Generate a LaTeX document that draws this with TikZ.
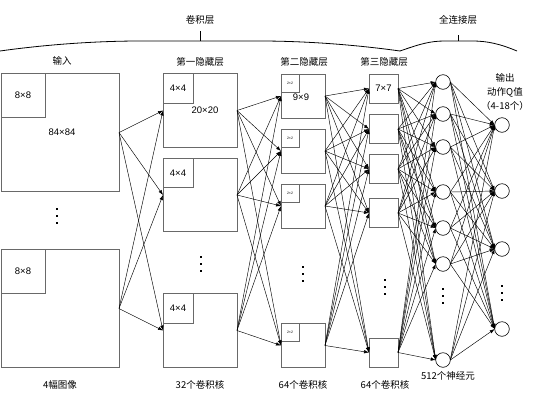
\documentclass[tikz,border=0pt]{standalone}
\usepackage{fontspec}
\setmainfont{Liberation Sans}
\newfontfamily\cjk{Noto Sans CJK SC}
\usepackage{xcolor}
\usetikzlibrary{arrows.meta}
\definecolor{Box-Gray}{RGB}{105, 105, 105}
\newcommand{\stackdots}[2]{\foreach \d in {-7,0,7} {\fill (#1-1.4,#2+\d-1.4) rectangle ++(2.8,2.8);}}

\begin{document}
\begin{tikzpicture}[x=1pt, y=-1pt, font=\fontsize{9.5}{10}\selectfont,
    cjklabel/.style={font=\fontsize{9.5}{14}\selectfont\cjk},
    bigbox/.style={draw=Box-Gray, line width=0.9pt, inner sep=0pt, outer sep=0pt},
    kernel/.style={draw=Box-Gray, line width=0.8pt, inner sep=0pt, outer sep=0pt, anchor=north west},
    neuron/.style={circle, draw, line width=0.6pt, minimum size=14.6pt, inner sep=0pt, outer sep=0pt},
    link/.style={-{Latex[length=5pt,width=3.5pt]}, line width=0.45pt},
    brace/.style={line width=0.8pt}]

    \useasboundingbox (0,0) rectangle (554,402);

    \node[cjklabel] (convtitle) at (200,20) {卷积层};
    \node[cjklabel] (fctitle) at (458,20) {全连接层};
    \draw[brace] (0,51) .. controls (50,44) and (100,41) .. (140,41) -- (260,41) .. controls (300,41) and (350,44) .. (400,51);
    \draw[brace] (200,41) -- (200,31);
    \draw[brace] (400,51) .. controls (420,44) and (430,41) .. (445,41) -- (472,41) .. controls (488,41) and (500,44) .. (517,51);
    \draw[brace] (458,41) -- (458,35);

    \node[cjklabel] (inputtitle) at (62,61) {输入};
    \node[cjklabel] (hidonetitle) at (200,62) {第一隐藏层};
    \node[cjklabel] (hidtwotitle) at (304,62) {第二隐藏层};
    \node[cjklabel] (hidthreetitle) at (384,62) {第三隐藏层};
    \node[cjklabel, align=center] (outtitle) at (505,92) {输出\\动作Q值\\（4-18个）};

    \node[bigbox, minimum width=118pt, minimum height=118pt] (input1) at (60,132.5) {};
    \node[bigbox, minimum width=118pt, minimum height=118pt] (input2) at (60,308.5) {};
    \node[kernel, minimum width=44pt, minimum height=44pt] (inkernel1) at (input1.north west) {8×8};
    \node[kernel, minimum width=44pt, minimum height=44pt] (inkernel2) at (input2.north west) {8×8};
    \node (insize) at (62,132) {84×84};

    \node[bigbox, minimum width=74pt, minimum height=73.5pt] (hidone1) at (200,110.5) {};
    \node[bigbox, minimum width=74pt, minimum height=73.5pt] (hidone2) at (200,195) {};
    \node[bigbox, minimum width=74pt, minimum height=73.5pt] (hidone3) at (200,330.5) {};
    \foreach \i in {1,2,3} {
        \node[kernel, minimum width=30pt, minimum height=29.5pt] (onekernel\i) at (hidone\i.north west) {4×4};
    }
    \node (onesize) at (205,110) {20×20};

    \foreach \i/\y in {1/96,2/151,3/206,4/345.5} {
        \node[bigbox, minimum width=44pt, minimum height=44pt] (hidtwo\i) at (303,\y) {};
        \node[kernel, minimum width=18pt, minimum height=18pt, font=\fontsize{3.5}{4}\selectfont] (twokernel\i) at (hidtwo\i.north west) {2×2};
    }
    \node (twosize) at (301,97) {9×9};

    \foreach \i/\y in {1/88.5,2/129,3/169,4/213,5/352.5} {
        \node[bigbox, minimum width=29pt, minimum height=29pt] (hidthree\i) at (383.5,\y) {};
    }
    \node (threesize) at (hidthree1) {7×7};

    \foreach \i/\y in {1/82,2/114,3/147,4/192,5/228,6/264,7/360} {
        \node[neuron] (neuron\i) at (443,\y) {};
    }

    \foreach \i/\y in {1/125,2/191,3/249,4/329} {
        \node[neuron] (out\i) at (502,\y) {};
    }

    \stackdots{57}{216}
    \stackdots{201}{264}
    \stackdots{303}{274}
    \stackdots{385}{287}
    \stackdots{443}{296}
    \stackdots{502}{293}

    \foreach \s in {1,2} \foreach \t in {1,2,3} {\draw[link] (input\s.east) -- (hidone\t.west);}
    \foreach \s in {1,2,3} \foreach \t in {1,...,4} {\draw[link] (hidone\s.east) -- (hidtwo\t.west);}
    \foreach \s in {1,...,4} \foreach \t in {1,...,5} {\draw[link] (hidtwo\s.east) -- (hidthree\t.west);}
    \foreach \s in {1,...,5} \foreach \t in {1,...,7} {\draw[link] (hidthree\s.east) -- (neuron\t.west);}
    \foreach \s in {1,...,7} \foreach \t in {1,...,4} {\draw[link] (neuron\s.east) -- (out\t.west);}

    \node[cjklabel] (inputnote) at (60,385) {4幅图像};
    \node[cjklabel] (onenote) at (200,385) {32个卷积核};
    \node[cjklabel] (twonote) at (303,385) {64个卷积核};
    \node[cjklabel] (threenote) at (385,385) {64个卷积核};
    \node[cjklabel] (neuronnote) at (448,376) {512个神经元};

\end{tikzpicture}
\end{document}
